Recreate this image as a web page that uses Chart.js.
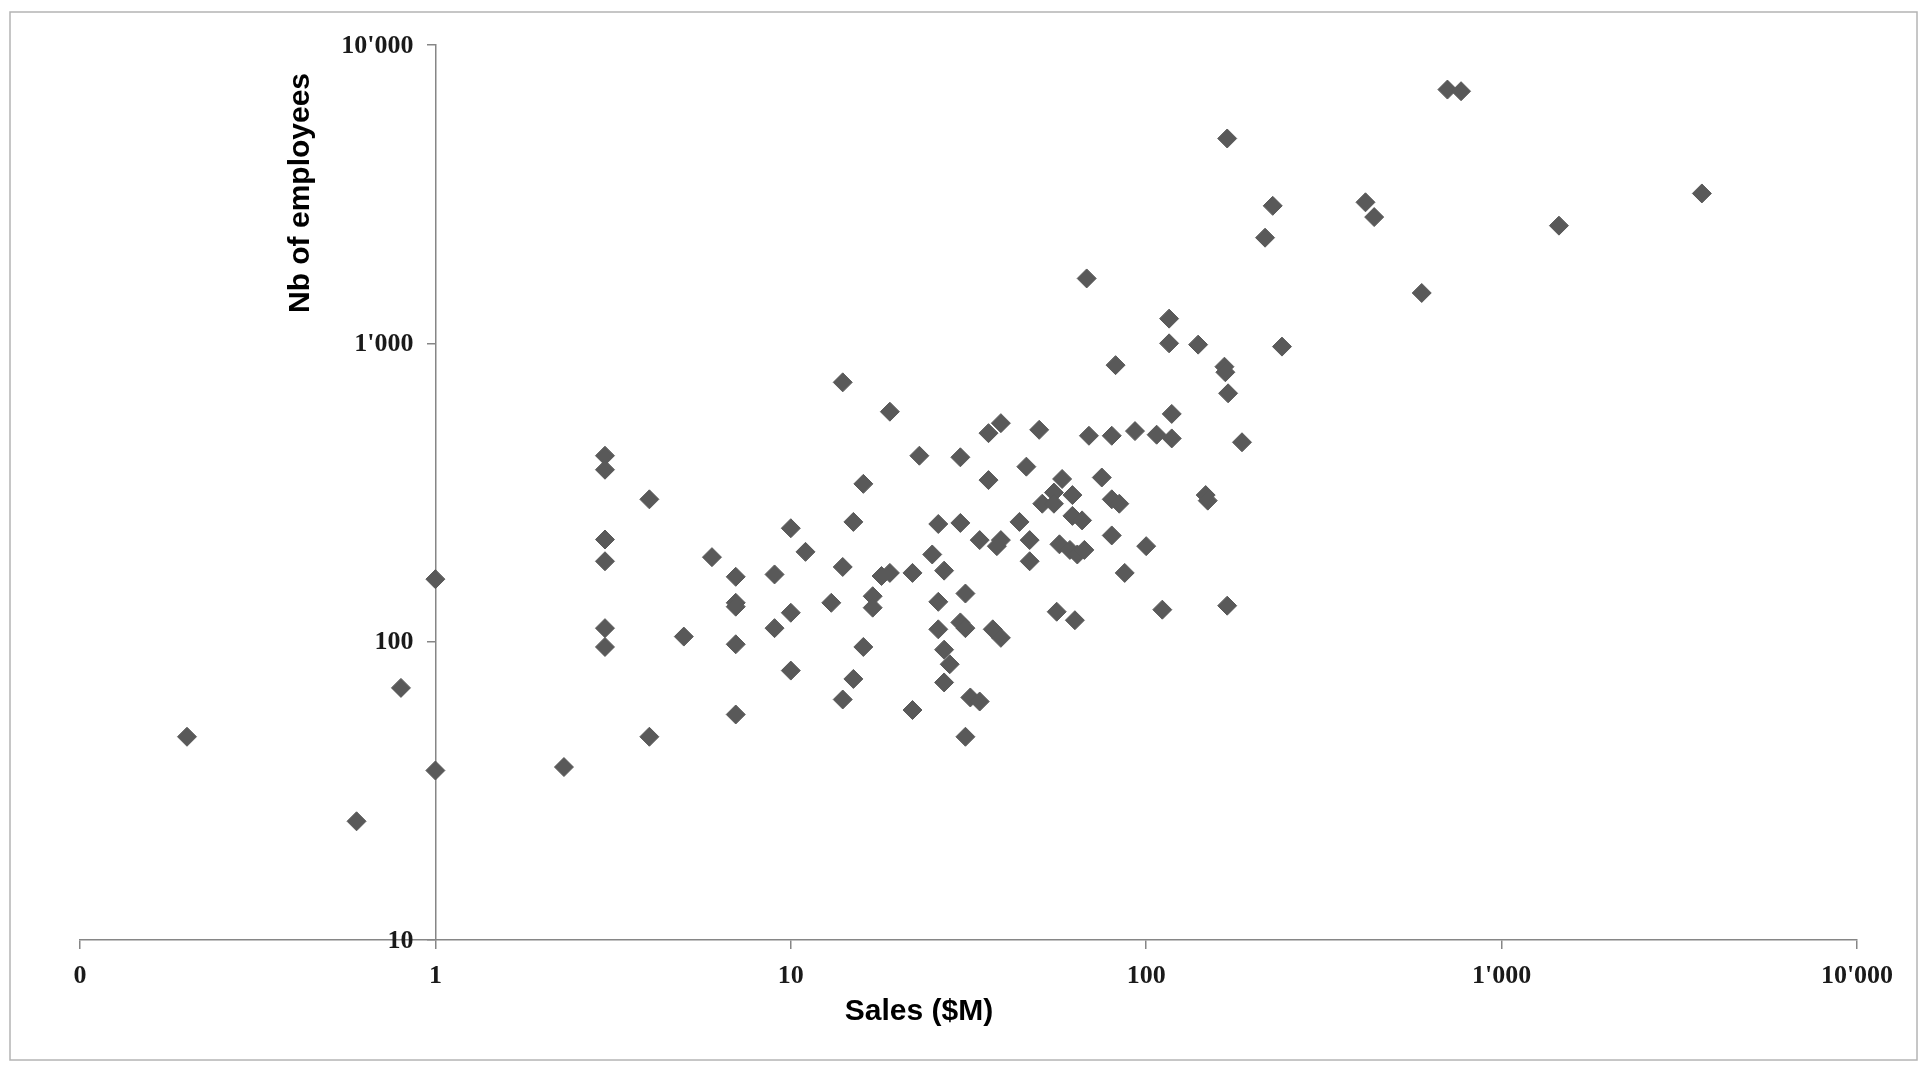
<!DOCTYPE html>
<html>
<head>
<meta charset="utf-8">
<title>Sales vs employees</title>
<script src="https://cdn.jsdelivr.net/npm/chart.js@4/dist/chart.umd.min.js"></script>
<style>
  html, body { margin: 0; padding: 0; background: #fff; overflow: hidden; }
  #wrap { position: relative; width: 1920px; height: 1066px; }
</style>
</head>
<body>
<div id="wrap"><canvas id="chart" width="1920" height="1066"></canvas></div>
<script>
// sales in $M (x) and number of employees (y)
const salesM = [
  0.2, 0.6, 0.8, 1, 1, 2.3,
  3, 3, 3, 3, 3, 3, 4, 4, 5, 6,
  7, 7, 7, 7, 7, 9, 9, 10, 10, 10, 11, 13,
  14, 14, 14, 15, 15, 16, 16, 17, 17, 18, 19, 19,
  22, 22, 23, 25, 26, 26, 26, 27, 27, 27, 28,
  30, 30, 30, 31, 31, 31, 32, 34, 34, 36, 36, 37, 38, 39, 39, 39,
  44, 46, 47, 47, 50, 51, 55, 55, 56, 57, 58, 61, 62, 62, 64, 63, 66, 67,
  68, 69, 75, 80, 80, 80, 82, 84, 87, 93, 100, 107, 111,
  116, 116, 118, 118, 140, 147, 149, 166, 167, 169, 169, 170, 186,
  216, 227, 241, 414, 438, 596, 704, 769, 1450, 3660
];
const employees = [
  48, 25, 70, 162, 37, 38,
  420, 377, 220, 186, 111, 96, 300, 48, 104, 192,
  165, 135, 131, 98, 57, 168, 111, 240, 125, 80, 200, 135,
  740, 178, 64, 252, 75, 338, 96, 142, 130, 166, 590, 170,
  170, 59, 420, 196, 248, 136, 110, 173, 94, 73, 84,
  415, 250, 116, 145, 111, 48, 65, 63, 219, 500, 348, 110, 209, 540, 219, 103,
  252, 386, 219, 186, 513, 290, 316, 290, 126, 212, 351, 203, 310, 264, 196, 118, 255, 203,
  1650, 490, 355, 490, 300, 227, 845, 290, 170, 508, 209, 494, 128,
  1210, 1000, 580, 480, 990, 310, 297, 835, 800, 4860, 132, 680, 466,
  2260, 2890, 975, 2970, 2650, 1475, 7090, 7000, 2480, 3180
];

const xTickValues = [0.1, 1, 10, 100, 1000, 10000];
const xTickLabels = ["0", "1", "10", "100", "1'000", "10'000"];
const yTickValues = [10, 100, 1000, 10000];
const yTickLabels = ["10", "100", "1'000", "10'000"];

const xTitle = "Sales ($M)";
const yTitle = "Nb of employees";

const AXIS_COLOR = "#868686";
const MARKER_COLOR = "#595959";
const TICK_FONT = { family: "Liberation Serif", size: 26, weight: "bold" };
const TICK_COLOR = "#1a1a1a";

// frame, y tick labels (axis sits at x = 1) and axis titles
const decorPlugin = {
  id: "decor",
  beforeDraw(chart) {
    const { ctx } = chart;
    ctx.save();
    ctx.strokeStyle = "#b4b4b4";
    ctx.lineWidth = 1.5;
    ctx.strokeRect(10, 12, 1907, 1048);
    ctx.restore();
  },
  afterDraw(chart) {
    const { ctx, scales } = chart;
    ctx.save();

    // y labels, right aligned a little left of the crossing axis
    const axisX = scales.x.getPixelForValue(1);
    ctx.fillStyle = TICK_COLOR;
    ctx.font = `bold ${TICK_FONT.size}px '${TICK_FONT.family}'`;
    ctx.textAlign = "right";
    ctx.textBaseline = "middle";
    yTickValues.forEach((v, i) => {
      ctx.fillText(yTickLabels[i], axisX - 22, scales.y.getPixelForValue(v) + 1);
    });

    ctx.fillStyle = "#000";
    ctx.font = "bold 30px 'Liberation Sans', Arial, sans-serif";
    ctx.textAlign = "center";
    ctx.textBaseline = "middle";
    ctx.fillText(xTitle, 919, 1012);
    ctx.translate(301, 193);
    ctx.rotate(-Math.PI / 2);
    ctx.fillText(yTitle, 0, 0);
    ctx.restore();
  }
};

const points = salesM.map((s, i) => ({ x: s, y: employees[i] }));

new Chart(document.getElementById("chart"), {
  type: "scatter",
  data: {
    datasets: [{
      data: points,
      pointStyle: "rectRot",
      pointRadius: 9.5,
      backgroundColor: MARKER_COLOR,
      borderColor: MARKER_COLOR,
      borderWidth: 1
    }]
  },
  options: {
    responsive: false,
    animation: false,
    events: [],
    layout: { padding: { left: 80, top: 45, right: 63, bottom: 0 } },
    plugins: { legend: { display: false }, tooltip: { enabled: false } },
    scales: {
      x: {
        type: "logarithmic",
        position: "bottom",
        min: 0.1,
        max: 10000,
        afterBuildTicks: s => { s.ticks = xTickValues.map(v => ({ value: v })); },
        afterFit: s => { s.height = 126; },
        ticks: {
          autoSkip: false,
          maxRotation: 0,
          padding: 12,
          color: TICK_COLOR,
          font: TICK_FONT,
          callback: v => xTickLabels[xTickValues.indexOf(v)]
        },
        grid: { drawOnChartArea: false, drawTicks: true, tickLength: 9, color: AXIS_COLOR, lineWidth: 1.5 },
        border: { color: AXIS_COLOR, width: 1.5 }
      },
      y: {
        type: "logarithmic",
        position: { x: 1 },
        min: 10,
        max: 10000,
        afterBuildTicks: s => { s.ticks = yTickValues.map(v => ({ value: v })); },
        ticks: { display: false },
        grid: { drawOnChartArea: false, drawTicks: true, tickLength: 8, color: AXIS_COLOR, lineWidth: 1.5 },
        border: { color: AXIS_COLOR, width: 1.5 }
      }
    }
  },
  plugins: [decorPlugin]
});
</script>
</body>
</html>
